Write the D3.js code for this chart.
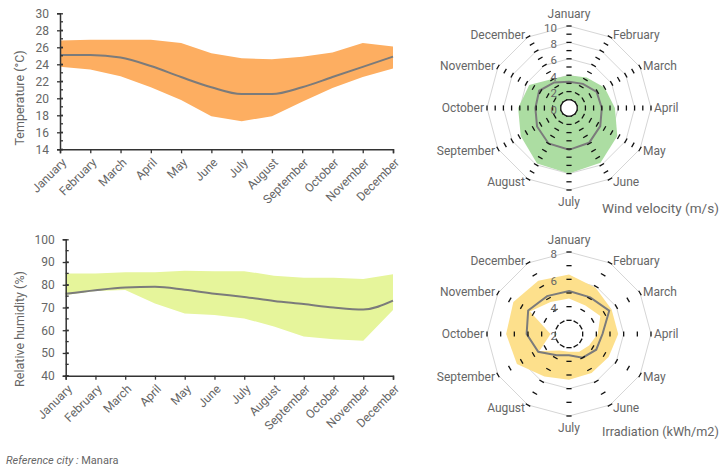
<!DOCTYPE html>
<html>
<head>
<meta charset="utf-8">
<script src="https://cdn.jsdelivr.net/npm/d3@7"></script>
<style>
  body { margin: 0; background: #fff; }
  svg text { font-family: Roboto, "Noto Sans", sans-serif; fill: #666; }
</style>
</head>
<body>
<div id="chart"></div>
<script>
'use strict';

var months = ['January', 'February', 'March', 'April', 'May', 'June',
              'July', 'August', 'September', 'October', 'November', 'December'];

// temperature (°C)
var tempMax = [26.8, 26.9, 26.9, 26.9, 26.5, 25.3, 24.7, 24.6, 24.9, 25.4, 26.5, 26.1];
var tempMin = [23.7, 23.4, 22.6, 21.3, 19.8, 17.9, 17.3, 17.9, 19.6, 21.2, 22.5, 23.5];
var tempAvg = [25.1, 25.1, 24.8, 23.8, 22.5, 21.3, 20.5, 20.5, 21.3, 22.5, 23.7, 24.9];

// relative humidity (%)
var humMax = [85, 85, 85.5, 85.5, 86.2, 86, 86, 84, 83.1, 83.1, 82.5, 84.6];
var humMin = [75.5, 77.3, 77.7, 71.8, 67.4, 66.7, 65.2, 61.6, 57.2, 56, 55.4, 68.9];
var humAvg = [76, 77.6, 78.8, 79.1, 77.8, 76.1, 74.6, 72.9, 71.5, 70, 69.1, 73];

// wind velocity (m/s)
var windMax = [4.0, 4.3, 5.0, 5.6, 6.8, 7.7, 8.0, 7.8, 6.8, 6.2, 5.6, 4.1];
var windAvg = [3.2, 3.4, 3.9, 4.0, 4.4, 4.9, 5.1, 5.0, 4.5, 4.1, 4.2, 3.6];
var windMin = [1.1, 1.1, 1.0, 1.1, 1.0, 1.1, 1.1, 1.0, 1.1, 1.0, 1.1, 1.0];

// irradiation (kWh/m2)
var irrMax = [6.35, 5.9, 5.6, 5.6, 5.35, 5.3, 5.35, 5.6, 6.4, 6.6, 6.7, 6.5];
var irrAvg = [5.15, 5.1, 5.4, 4.45, 4.3, 4.0, 3.55, 3.8, 4.6, 5.1, 5.45, 5.2];
var irrMin = [4.6, 4.4, 4.65, 4.1, 3.7, 3.5, 3.3, 3.4, 4.5, 3.35, 5.3, 4.7];

var tempTicks = [14, 16, 18, 20, 22, 24, 26, 28, 30];
var humTicks = [40, 50, 60, 70, 80, 90, 100];
var windTicks = [0, 2, 4, 6, 8, 10];
var irrTicks = [2, 4, 6, 8];

var svg = d3.select('#chart').append('svg')
    .attr('width', 724)
    .attr('height', 466);

// shrink a text until it fits the given width (the original font is narrower)
function fitWidth(sel, w) {
    var len = sel.node().getComputedTextLength();
    if (len > w) {
        var fs = parseFloat(sel.style('font-size'));
        sel.style('font-size', (fs * w / len).toFixed(2) + 'px');
    }
}

function bandChart(opt) {
    var x = d3.scalePoint().domain(months).range([opt.left, opt.right]);
    var y = d3.scaleLinear().domain(opt.domain).range([opt.bottom, opt.top]);
    var g = svg.append('g');

    var area = d3.area()
        .x(function(d, i) { return x(months[i]); })
        .y0(function(d, i) { return y(opt.min[i]); })
        .y1(function(d) { return y(d); });
    g.append('path')
        .attr('d', area(opt.max))
        .attr('fill', opt.color);

    var line = d3.line()
        .x(function(d, i) { return x(months[i]); })
        .y(function(d) { return y(d); })
        .curve(d3.curveMonotoneX);
    g.append('path')
        .attr('d', line(opt.avg))
        .attr('fill', 'none')
        .attr('stroke', '#7b7b7b')
        .attr('stroke-width', 2);

    // y axis with minor ticks
    var yAxis = d3.axisLeft(y).tickValues(opt.ticks).tickSize(3).tickPadding(8);
    var ya = g.append('g').attr('transform', 'translate(' + opt.left + ',0)').call(yAxis);
    ya.select('.domain').attr('stroke', '#333').attr('stroke-width', 1.5);
    ya.selectAll('.tick line').attr('x2', -3).attr('x1', 3).attr('stroke', '#333').attr('stroke-width', 1.3);
    ya.selectAll('.tick text').style('font-size', '12px').attr('fill', '#666');
    var minor = d3.range(opt.domain[0], opt.domain[1], opt.minorStep);
    g.selectAll('line.minor').data(minor).enter().append('line')
        .attr('x1', opt.left).attr('x2', opt.left + 3)
        .attr('y1', function(d) { return y(d); })
        .attr('y2', function(d) { return y(d); })
        .attr('stroke', '#333').attr('stroke-width', 1.3);

    // x axis
    var xAxis = d3.axisBottom(x).tickSize(4).tickFormat('');
    var xa = g.append('g').attr('transform', 'translate(0,' + opt.bottom + ')').call(xAxis);
    xa.select('.domain').attr('stroke', '#333').attr('stroke-width', 1.5);
    xa.selectAll('.tick line').attr('stroke', '#333').attr('stroke-width', 1.3);
    g.selectAll('text.month').data(months).enter().append('text')
        .attr('class', 'month')
        .attr('transform', function(d) {
            return 'translate(' + (x(d) + 4) + ',' + (opt.bottom + 11) + ') rotate(-45)';
        })
        .attr('text-anchor', 'end')
        .attr('dy', '0.35em')
        .style('font-size', '12px')
        .text(function(d) { return d; });

    g.append('text')
        .attr('transform', 'translate(20,' + opt.titleY + ') rotate(-90)')
        .attr('text-anchor', 'middle')
        .attr('dy', '0.35em')
        .style('font-size', '12.5px')
        .text(opt.title);
}

bandChart({
    left: 60, right: 393, top: 13.3, bottom: 149.3,
    domain: [14, 30], ticks: tempTicks, minorStep: 1,
    max: tempMax, min: tempMin, avg: tempAvg,
    color: '#fdae61', title: 'Temperature (°C)', titleY: 98
});

bandChart({
    left: 65.7, right: 393, top: 239.3, bottom: 375.7,
    domain: [40, 100], ticks: humTicks, minorStep: 5,
    max: humMax, min: humMin, avg: humAvg,
    color: '#e6f59b', title: 'Relative humidity (%)', titleY: 329
});

function radarChart(opt) {
    var r = d3.scaleLinear().domain(opt.domain).range([0, 82]);
    var step = 2 * Math.PI / months.length;
    var g = svg.append('g').attr('transform', 'translate(' + opt.cx + ',' + opt.cy + ')');

    var radial = d3.lineRadial()
        .angle(function(d, i) { return i * step; })
        .radius(function(d) { return r(d); })
        .curve(d3.curveLinearClosed);

    // grid polygons
    opt.grid.forEach(function(v) {
        g.append('path')
            .attr('d', radial(months.map(function() { return v; })))
            .attr('fill', 'none')
            .attr('stroke', '#d6d6d6')
            .attr('stroke-width', 1);
    });

    g.append('path').attr('d', radial(opt.max)).attr('fill', opt.color);
    g.append('path').attr('d', radial(opt.min)).attr('fill', '#fff');
    g.append('path').attr('d', radial(opt.avg))
        .attr('fill', 'none')
        .attr('stroke', '#7b7b7b')
        .attr('stroke-width', 2);

    // dashes across every spoke
    var tickVals = d3.range(opt.domain[0] + 1, opt.domain[1] + 1, 1);
    months.forEach(function(m, i) {
        var a = i * step;
        g.selectAll(null).data(tickVals).enter().append('line')
            .attr('x1', function(d) { return r(d) * Math.sin(a) - 2.6 * Math.cos(a); })
            .attr('y1', function(d) { return -r(d) * Math.cos(a) - 2.6 * Math.sin(a); })
            .attr('x2', function(d) { return r(d) * Math.sin(a) + 2.6 * Math.cos(a); })
            .attr('y2', function(d) { return -r(d) * Math.cos(a) + 2.6 * Math.sin(a); })
            .attr('stroke', '#111')
            .attr('stroke-width', 1.3);
    });

    // value labels
    g.selectAll('text.val').data(opt.ticks).enter().append('text')
        .attr('x', -12)
        .attr('y', function(d) { return -r(d) + 1.5; })
        .attr('dy', '0.35em')
        .attr('text-anchor', 'end')
        .style('font-size', '11.5px')
        .attr('fill', '#888')
        .text(function(d) { return d; });

    // month labels
    g.selectAll('text.month').data(months).enter().append('text')
        .each(function(d, i) {
            var a = i * step, s = Math.sin(a), c = Math.cos(a);
            var px = 82 * s, py = -82 * c;
            var t = d3.select(this).style('font-size', '12px').text(d);
            if (Math.abs(s) < 0.1) {
                t.attr('x', px).attr('text-anchor', 'middle')
                    .attr('y', c > 0 ? py - 8 : py + 16);
            } else {
                t.attr('x', px + (s > 0 ? 3 : -3))
                    .attr('text-anchor', s > 0 ? 'start' : 'end')
                    .attr('y', py - 3 * c).attr('dy', '0.35em');
            }
        });

    var title = svg.append('text')
        .attr('x', 602)
        .attr('y', opt.titleY)
        .attr('dy', '0.35em')
        .style('font-size', '15px')
        .text(opt.title);
    fitWidth(title, 117);
}

radarChart({
    cx: 569, cy: 108, domain: [0, 10], ticks: windTicks, grid: [2, 4, 6, 8, 10],
    max: windMax, min: windMin, avg: windAvg,
    color: '#acdda2', title: 'Wind velocity (m/s)', titleY: 208
});

radarChart({
    cx: 569, cy: 334, domain: [2, 8], ticks: irrTicks, grid: [4, 6, 8],
    max: irrMax, min: irrMin, avg: irrAvg,
    color: '#fde08c', title: 'Irradiation (kWh/m2)', titleY: 432
});

var foot = svg.append('text')
    .attr('x', 6)
    .attr('y', 460)
    .attr('dy', '0.35em')
    .style('font-size', '11px')
    .attr('fill', '#777');
foot.append('tspan').style('font-style', 'italic').text('Reference city : ');
foot.append('tspan').text('Manara');
</script>
</body>
</html>
